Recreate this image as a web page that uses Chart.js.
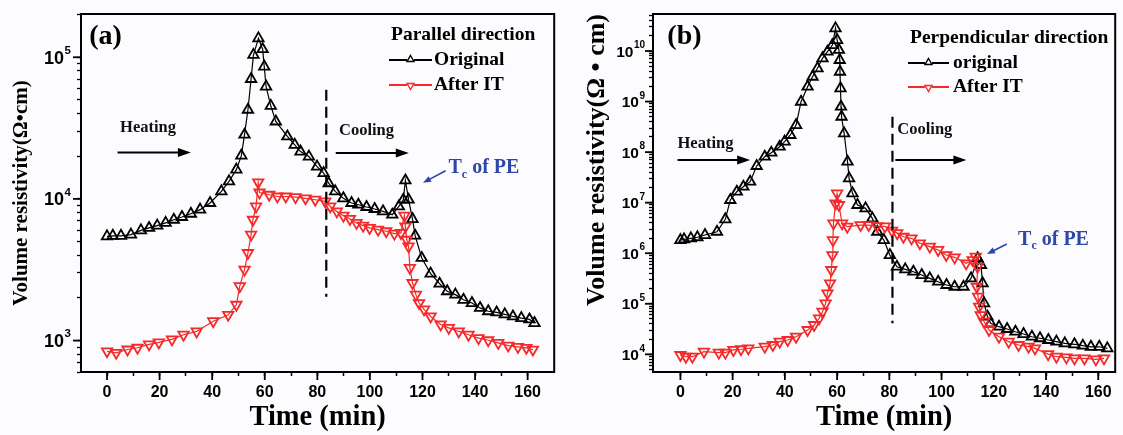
<!DOCTYPE html>
<html><head><meta charset="utf-8">
<script src="https://cdn.jsdelivr.net/npm/chart.js@4.4.1/dist/chart.umd.min.js"></script>
<style>
html,body{margin:0;padding:0;background:#fcfcfe;}
#wrap{position:relative;width:1123px;height:435px;overflow:hidden;background:#fcfcfe;}
canvas{position:absolute;top:0;}
#ca{left:0;} #cb{left:562px;}
</style></head><body>
<div id="wrap"><canvas id="ca" width="562" height="435"></canvas><canvas id="cb" width="561" height="435"></canvas></div>
<script>
// ---------- tick labels ----------
const xTicks = [0,10,20,30,40,50,60,70,80,90,100,110,120,130,140,150,160];
const xTickLabels = [0,20,40,60,80,100,120,140,160];
const aDecades = [3,4,5];
const bDecades = [4,5,6,7,8,9,10];

// ---------- panel (a) Parallel direction ----------
const aOrigT = [0,2.2,5.3,9.1,12.9,16.0,19.1,22.3,25.4,28.5,31.9,35.4,39.2,43.5,46.4,49.2,51.1,52.3,53.6,54.8,55.7,57.6,59.2,59.8,60.5,62.3,64.2,68.6,71.4,73.6,76.8,79.9,82.4,84.3,86.8,89.9,93.0,95.6,98.7,101.8,105.0,108.5,111.0,112.7,113.5,114.7,116.2,117.2,119.7,123.1,126.5,129.4,132.5,135.6,138.8,141.9,145.0,148.2,151.3,154.4,157.6,160.7,162.6];
const aOrigV = [5440,5490,5490,5600,6000,6240,6480,6770,7130,7450,7860,8400,9360,11300,13300,16100,20200,28400,42600,70200,104000,136000,114000,86000,62100,45400,35200,27600,24100,21600,19900,16900,15200,12900,11300,10100,9360,9100,8770,8490,8170,7740,8850,9870,13500,9870,7210,5500,3830,2970,2520,2230,2110,1940,1840,1700,1610,1580,1530,1480,1440,1410,1330];
const aItT = [0,3.5,7.8,11.6,16.0,19.7,24.7,29.1,34.1,40.4,46.1,49.2,50.5,52.3,53.6,54.8,55.5,56.7,57.5,58.0,61.7,64.8,68.0,71.7,75.5,79.2,83.0,84.9,87.4,89.9,92.4,94.9,97.4,99.9,103.1,106.2,109.3,111.8,113.1,113.5,114.0,114.7,115.2,116.2,117.5,118.7,120.6,123.1,126.9,130.0,133.8,137.5,141.3,145.0,148.8,152.6,156.3,159.5,162.0];
const aItV = [840,820,865,890,940,970,1020,1100,1160,1370,1520,1790,2420,3170,4150,5600,7130,8850,13100,11100,10700,10400,10400,10300,10100,9870,9600,8850,8160,7620,7220,6770,6480,6240,6070,5910,5690,5750,7620,6400,5150,4620,3260,2550,2110,1840,1660,1480,1300,1230,1160,1100,1040,1005,964,922,903,889,864];
const aDashT = [83.4,83.4];
const aDashV = [59000,2040];

// ---------- panel (b) Perpendicular direction ----------
const bOrigT = [0,1.4,4.0,6.5,9.4,14.0,17.2,19.1,21.6,24.1,26.7,29.2,32.3,34.8,38.0,39.9,42.1,44.3,46.2,48.7,50.6,52.5,54.4,56.3,58.2,59.4,60.0,60.7,61.0,61.1,61.3,61.5,61.7,62.7,64.0,64.6,65.9,67.8,70.9,73.5,75.4,77.9,80.2,82.9,86.1,89.2,92.4,95.5,98.7,101.9,105.0,108.4,111.3,113.8,115.1,115.7,116.3,117.6,118.8,122.0,125.1,128.3,131.4,134.6,137.7,140.9,144.0,147.2,150.9,154.1,157.2,160.4,163.5];
const bOrigV = [1.82e6,1.88e6,1.97e6,2.07e6,2.29e6,2.66e6,4.69e6,1.13e7,1.65e7,2.07e7,2.60e7,5.31e7,8.11e7,9.73e7,1.28e8,1.61e8,2.18e8,3.43e8,9.93e8,1.97e9,3.10e9,4.55e9,7.18e9,9.69e9,1.31e10,2.81e10,1.65e10,1.05e10,6.64e9,3.89e9,1.83e9,7.91e8,5.01e8,2.35e8,6.46e7,3.03e7,1.53e7,9.0e6,7.73e6,4.90e6,2.66e6,1.82e6,9.21e5,5.41e5,4.80e5,4.31e5,3.70e5,3.18e5,2.73e5,2.35e5,2.17e5,2.17e5,3.18e5,7.93e5,5.85e5,2.54e5,1.02e5,5.55e4,4.10e4,3.52e4,3.17e4,2.80e4,2.52e4,2.23e4,2.08e4,1.92e4,1.78e4,1.65e4,1.58e4,1.48e4,1.41e4,1.41e4,1.31e4];
const bItT = [0,2.1,4.6,9.0,14.7,17.2,20.3,23.2,26.0,32.3,35.4,38.0,41.1,44.3,48.7,51.2,53.1,54.4,55.6,56.3,57.3,57.8,58.2,58.4,58.6,59.4,60.0,60.7,61.9,63.9,69.0,72.1,75.3,78.3,81.0,83.0,85.4,88.5,91.7,95.5,98.7,101.8,105.0,109.4,111.9,113.1,113.8,113.5,114.0,114.4,115.0,116.3,118.2,122.0,125.7,129.5,133.3,135.8,140.8,144.0,147.8,150.9,154.7,159.1,162.2];
const bItV = [9.7e3,8.97e3,8.97e3,1.13e4,1.08e4,1.08e4,1.22e4,1.26e4,1.31e4,1.42e4,1.53e4,1.78e4,1.92e4,2.23e4,3.03e4,3.80e4,5.15e4,6.97e4,1.02e5,1.61e5,2.54e5,4.66e5,9.21e5,1.82e6,3.90e6,9.7e6,1.53e7,9.0e6,3.90e6,3.35e6,3.61e6,3.61e6,3.45e6,3.4e6,2.8e6,2.5e6,2.12e6,1.97e6,1.57e6,1.35e6,1.16e6,9.21e5,8.29e5,6.3e5,7.33e5,8.53e5,5.41e5,2.17e5,1.38e5,8.75e4,5.98e4,4.42e4,3.03e4,2.23e4,1.78e4,1.53e4,1.42e4,1.31e4,1.01e4,8.97e3,8.71e3,8.33e3,8.33e3,7.96e3,8.33e3];
const bDashT = [81.2,81.2];
const bDashV = [5.0e8,4.1e4];

// ---------- styling / layout ----------
const SERIF = '"Liberation Serif","Times New Roman",serif';
const SANS = '"Liberation Sans",Arial,sans-serif';
const RED = '#f42a2a';
const BLUE = '#2d47a8';

const panelA = {
  id:'ca', origT:aOrigT, origV:aOrigV, itT:aItT, itV:aItV, dashT:aDashT, dashV:aDashV,
  decades:aDecades, xMin:-9.9, xMax:170.1, yMin:600, yMax:202000, yWidth:81, padRight:3,
  yTitle:'Volume resistivity(Ω•cm)', yTitleSize:21, yTitlePad:9, yTitleAlign:'center',
  tickBase:18, tickExp:11.5, tickGap:10,
  label:'(a)', labelPos:[-6.8,1.4e5],
  legTitle:'Parallel direction', legNames:['Original','After IT'],
  leg:{x:391, yT:35, y1:60, y2:85, l1:389, l2:432, tx:434},
  heat:{t:15.6, v:31600, a1:4.0, a2:31.9, av:21300},
  cool:{t:98.7, v:30300, a1:87.0, a2:114.8, av:21100},
  tc:{t:129.9, v:16600, a1:[128.8,15800], a2:[120.2,13000]}
};
const panelB = {
  id:'cb', origT:bOrigT, origV:bOrigV, itT:bItT, itV:bItV, dashT:bDashT, dashV:bDashV,
  decades:bDecades, xMin:-10.5, xMax:166.5, yMin:4470, yMax:5.4e10, yWidth:91, padRight:1.5,
  yTitle:'Volume resistivity(Ω • cm)', yTitleSize:26, yTitlePad:20, yTitleAlign:'end',
  tickBase:15.5, tickExp:10, tickGap:8,
  label:'(b)', labelPos:[-5.0,1.92e10],
  legTitle:'Perpendicular direction', legNames:['original','After IT'],
  leg:{x:348, yT:38, y1:63, y2:87, l1:346, l2:387, tx:391},
  heat:{t:9.6, v:1.49e8, a1:-1.1, a2:26.7, av:6.98e7},
  cool:{t:93.6, v:2.73e8, a1:82.3, a2:109.5, av:6.98e7},
  tc:{t:129.3, v:1.88e6, a1:[125.0,1.52e6], a2:[117.4,9.64e5]}
};

function tri(ctx, x, y, r, rot) {
  let rad = rot * Math.PI / 180;
  ctx.beginPath();
  ctx.moveTo(x + Math.sin(rad) * r, y - Math.cos(rad) * r);
  rad += 2 * Math.PI / 3;
  ctx.lineTo(x + Math.sin(rad) * r, y - Math.cos(rad) * r);
  rad += 2 * Math.PI / 3;
  ctx.lineTo(x + Math.sin(rad) * r, y - Math.cos(rad) * r);
  ctx.closePath();
  ctx.stroke();
}
function arrow(ctx, x1, y1, x2, y2, color, w, hl, hw) {
  const a = Math.atan2(y2 - y1, x2 - x1);
  ctx.strokeStyle = color; ctx.fillStyle = color; ctx.lineWidth = w;
  ctx.beginPath(); ctx.moveTo(x1, y1);
  ctx.lineTo(x2 - Math.cos(a) * hl * 0.7, y2 - Math.sin(a) * hl * 0.7); ctx.stroke();
  ctx.beginPath(); ctx.moveTo(x2, y2);
  ctx.lineTo(x2 - hl * Math.cos(a) + hw * Math.sin(a), y2 - hl * Math.sin(a) - hw * Math.cos(a));
  ctx.lineTo(x2 - hl * Math.cos(a) - hw * Math.sin(a), y2 - hl * Math.sin(a) + hw * Math.cos(a));
  ctx.closePath(); ctx.fill();
}

function decoPlugin(p) {
  return {
    id: 'deco' + p.id,
    afterDraw(chart) {
      const {ctx, chartArea: a, scales: {x, y}} = chart;
      const X = v => x.getPixelForValue(v), Y = v => y.getPixelForValue(v);
      ctx.save();
      // frame top / right
      ctx.strokeStyle = '#000'; ctx.lineWidth = 2;
      ctx.beginPath(); ctx.moveTo(a.left - 1, a.top); ctx.lineTo(a.right, a.top); ctx.lineTo(a.right, a.bottom + 1); ctx.stroke();
      // long major ticks
      ctx.lineWidth = 1.8;
      x.ticks.forEach(t => { if (t.major) { const px = X(t.value); ctx.beginPath(); ctx.moveTo(px, a.bottom); ctx.lineTo(px, a.bottom + 8); ctx.stroke(); } });
      y.ticks.forEach(t => { if (t.major) { const py = Y(t.value); ctx.beginPath(); ctx.moveTo(a.left, py); ctx.lineTo(a.left - 8, py); ctx.stroke(); } });
      // y tick labels 10^n (power of ten with raised exponent)
      ctx.fillStyle = '#000'; ctx.textAlign = 'right';
      y.ticks.forEach(t => {
        if (!t.major) return;
        const e = Math.round(Math.log10(t.value));
        if (!p.decades.includes(e)) return;
        const py = Y(t.value), xr = a.left - p.tickGap;
        ctx.font = 'bold ' + p.tickExp + 'px ' + SANS;
        ctx.textBaseline = 'alphabetic';
        const ew = ctx.measureText(String(e)).width;
        ctx.fillText(String(e), xr, py - p.tickBase * 0.18);
        ctx.font = 'bold ' + p.tickBase + 'px ' + SANS;
        ctx.fillText('10', xr - ew - 0.5, py + p.tickBase * 0.36);
      });
      ctx.textBaseline = 'middle';
      // panel label
      ctx.fillStyle = '#000'; ctx.font = 'bold 28px ' + SERIF; ctx.textAlign = 'left';
      ctx.fillText(p.label, X(p.labelPos[0]), Y(p.labelPos[1]));
      // legend
      const L = p.leg;
      ctx.font = 'bold 19.5px ' + SERIF;
      ctx.fillText(p.legTitle, L.x, L.yT);
      [[L.y1, '#000', 0, p.legNames[0]], [L.y2, RED, 180, p.legNames[1]]].forEach(([yy, c, rot, name]) => {
        ctx.strokeStyle = c; ctx.lineWidth = 2;
        ctx.beginPath(); ctx.moveTo(L.l1, yy); ctx.lineTo(L.l2, yy); ctx.stroke();
        ctx.fillStyle = '#fcfcfe'; ctx.lineWidth = 1.4;
        ctx.beginPath(); ctx.arc((L.l1 + L.l2) / 2, yy, 3.6, 0, 7); ctx.fill();
        tri(ctx, (L.l1 + L.l2) / 2, yy + (rot ? 0.5 : -0.5), 4, rot);
        ctx.fillStyle = '#000';
        ctx.fillText(name, L.tx, yy);
      });
      // heating / cooling
      ctx.font = 'bold 16.5px ' + SERIF; ctx.textAlign = 'center'; ctx.fillStyle = '#111';
      ctx.fillText('Heating', X(p.heat.t), Y(p.heat.v));
      arrow(ctx, X(p.heat.a1), Y(p.heat.av), X(p.heat.a2), Y(p.heat.av), '#000', 2, 13, 4.5);
      ctx.fillStyle = '#111';
      ctx.fillText('Cooling', X(p.cool.t), Y(p.cool.v));
      arrow(ctx, X(p.cool.a1), Y(p.cool.av), X(p.cool.a2), Y(p.cool.av), '#000', 2, 13, 4.5);
      // Tc of PE
      ctx.textAlign = 'left'; ctx.fillStyle = BLUE;
      let tx = X(p.tc.t); const ty = Y(p.tc.v);
      ctx.font = 'bold 20px ' + SERIF; ctx.fillText('T', tx, ty); tx += ctx.measureText('T').width;
      ctx.font = 'bold 12px ' + SERIF; ctx.fillText('c', tx, ty + 7); tx += ctx.measureText('c').width;
      ctx.font = 'bold 20px ' + SERIF; ctx.fillText(' of PE', tx, ty);
      arrow(ctx, X(p.tc.a1[0]), Y(p.tc.a1[1]), X(p.tc.a2[0]), Y(p.tc.a2[1]), BLUE, 1.6, 8, 3.2);
      ctx.restore();
    }
  };
}

function build(p) {
  const pts = (T, V) => T.map((t, i) => ({x: t, y: V[i]}));
  const common = {borderWidth: 1.2, pointStyle: 'triangle', pointRadius: 6, pointBorderWidth: 1.8,
    pointBackgroundColor: 'rgba(0,0,0,0)', tension: 0, fill: false};
  return new Chart(document.getElementById(p.id), {
    type: 'line',
    data: {datasets: [
      Object.assign({label: p.legNames[0], data: pts(p.origT, p.origV), borderColor: '#000', pointBorderColor: '#000', order: 2}, common),
      Object.assign({label: p.legNames[1], data: pts(p.itT, p.itV), borderColor: RED, pointBorderColor: RED, pointRotation: 180, order: 1}, common),
      {label: 'divider', data: pts(p.dashT, p.dashV), borderColor: '#000', borderWidth: 2.2, borderDash: [11, 6], pointRadius: 0, order: 0}
    ]},
    options: {
      responsive: false, animation: false, devicePixelRatio: 1,
      layout: {padding: {top: 14, right: p.padRight, left: 0, bottom: 0}},
      plugins: {legend: {display: false}, tooltip: {enabled: false}},
      scales: {
        x: {
          type: 'linear', min: p.xMin, max: p.xMax,
          afterBuildTicks: s => { s.ticks = xTicks.map(v => ({value: v, major: xTickLabels.includes(v)})); },
          afterFit: s => { s.height = 63; },
          ticks: {autoSkip: false, maxRotation: 0, padding: 7, color: '#000',
            font: {family: SANS, weight: 'bold', size: 16},
            callback: v => xTickLabels.includes(v) ? String(v) : ''},
          grid: {drawOnChartArea: false, drawTicks: true, tickLength: 4, tickWidth: 1.5, tickColor: '#000'},
          border: {display: true, color: '#000', width: 2},
          title: {display: true, text: 'Time (min)', color: '#000', font: {family: SERIF, weight: 'bold', size: 28.5}, padding: {top: 0, bottom: 0}}
        },
        y: {
          type: 'logarithmic', min: p.yMin, max: p.yMax,
          afterBuildTicks: s => {
            const t = [];
            const e0 = Math.floor(Math.log10(p.yMin)), e1 = Math.ceil(Math.log10(p.yMax));
            for (let e = e0; e <= e1; e++) for (let k = 1; k <= 9; k++) {
              const v = k * Math.pow(10, e);
              if (v >= p.yMin && v <= p.yMax) t.push({value: v, major: k === 1});
            }
            s.ticks = t;
          },
          afterFit: s => { s.width = p.yWidth; },
          ticks: {display: false, autoSkip: false},
          grid: {drawOnChartArea: false, drawTicks: true, tickLength: 4, tickWidth: 1.3, tickColor: '#000'},
          border: {display: true, color: '#000', width: 2},
          title: {display: true, text: p.yTitle, align: p.yTitleAlign, color: '#000', font: {family: SERIF, weight: 'bold', size: p.yTitleSize}, padding: {top: p.yTitlePad, bottom: 0}}
        }
      }
    },
    plugins: [decoPlugin(p)]
  });
}
build(panelA);
build(panelB);
</script>
</body></html>
